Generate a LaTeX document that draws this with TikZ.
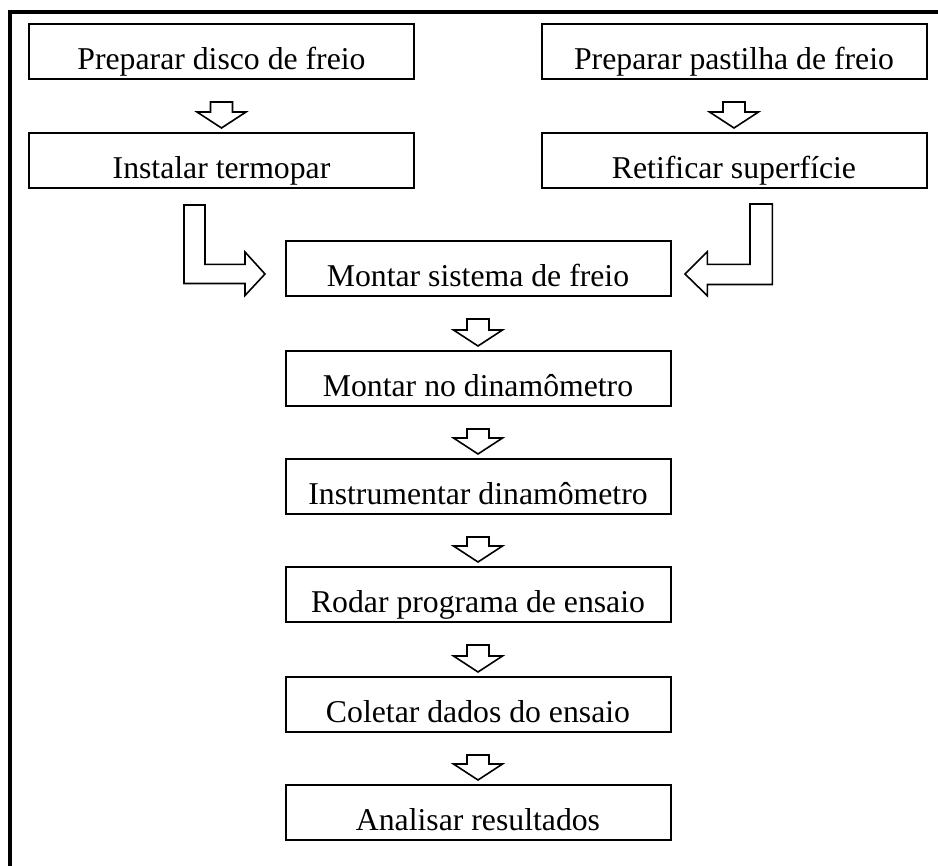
\documentclass[tikz,border=0pt]{standalone}
\usepackage{fontspec}
\setmainfont{Liberation Serif}
\usetikzlibrary{calc}
\newcommand\dnarr[2]{%
  \draw[blk] ($(#1.south)+(-11,22)$) -- ($(#1.south)+(11,22)$)
    -- ($(#2.north)+(11,-20)$) -- ($(#2.north)+(24.5,-20)$)
    -- ($(#2.north)+(0,-4)$) -- ($(#2.north)+(-24.5,-20)$)
    -- ($(#2.north)+(-11,-20)$) -- cycle;}
\begin{document}
\begin{tikzpicture}[x=0.75pt,y=-0.75pt,
  box/.style={draw, line width=1.5pt, minimum width=385*0.75pt,
    minimum height=55*0.75pt, inner sep=0pt,
    text height=45.5*0.75pt, text depth=9.5*0.75pt,
    font=\fontsize{23.8}{28}\selectfont},
  blk/.style={draw, line width=1.2pt, line join=miter, fill=white},
  frame/.style={draw, line width=3pt, line join=miter}]
\useasboundingbox (0,0) rectangle (938,866);
\draw[frame] (10,866) -- (10,12.5) -- (938,12.5);

\node[box] (disco) at (221.5,51.5) {Preparar disco de freio};
\node[box] (inst)  at (221.5,160.5) {Instalar termopar};
\node[box] (past)  at (734,51.5) {Preparar pastilha de freio};
\node[box] (retif) at (734,160.5) {Retificar superfície};
\node[box] (sys)   at (478,268.5) {Montar sistema de freio};
\node[box] (dina)  at (478,378.5) {Montar no dinamômetro};
\node[box] (instr) at (478,486.5) {Instrumentar dinamômetro};
\node[box] (rodar) at (478,594.5) {Rodar programa de ensaio};
\node[box] (colet) at (478,704.5) {Coletar dados do ensaio};
\node[box] (anal)  at (478,812.5) {Analisar resultados};

\dnarr{disco}{inst}
\dnarr{past}{retif}
\dnarr{sys}{dina}
\dnarr{dina}{instr}
\dnarr{instr}{rodar}
\dnarr{rodar}{colet}
\dnarr{colet}{anal}

\coordinate (lc) at (inst.south |- sys.west);
\draw[blk] ($(lc)+(-37.5,-63.5)$) -- ($(lc)+(-16.5,-63.5)$)
  -- ($(lc)+(-16.5,-4.2)$) -- ($(lc)+(23.5,-4.2)$)
  -- ($(lc)+(23.5,-16.5)$) -- ($(lc)+(43.5,5.5)$)
  -- ($(lc)+(23.5,27)$) -- ($(lc)+(23.5,15)$)
  -- ($(lc)+(-37.5,15)$) -- cycle;

\coordinate (rc) at (retif.south |- sys.east);
\draw[blk] ($(rc)+(16,-64.5)$) -- ($(rc)+(38.3,-64.5)$)
  -- ($(rc)+(38.3,16)$) -- ($(rc)+(-26.7,16)$)
  -- ($(rc)+(-26.7,27.2)$) -- ($(rc)+(-49,5.5)$)
  -- ($(rc)+(-26.7,-16.8)$) -- ($(rc)+(-26.7,-4.2)$)
  -- ($(rc)+(16,-4.2)$) -- cycle;
\end{tikzpicture}
\end{document}
